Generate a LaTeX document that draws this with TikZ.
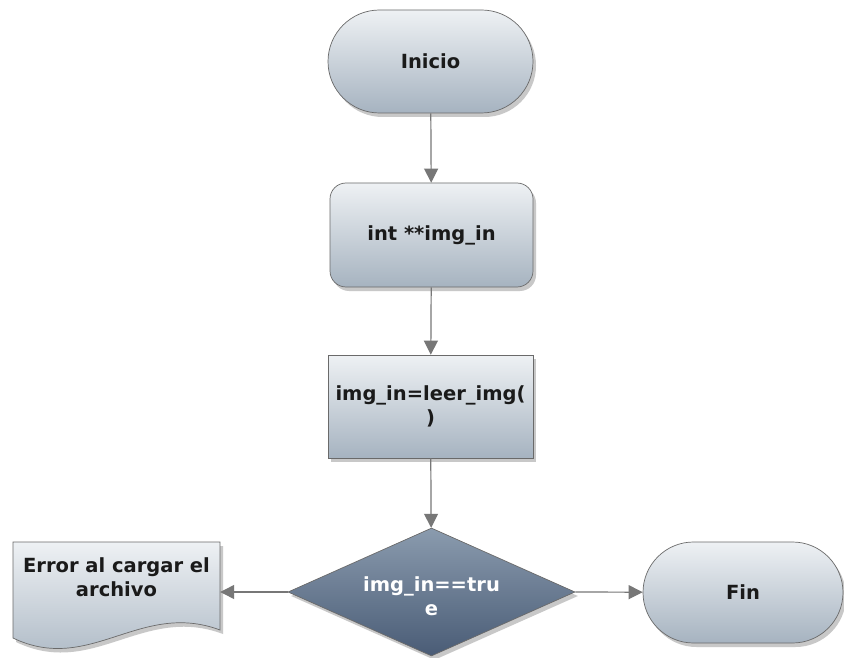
\documentclass[tikz,border=0pt]{standalone}
\usepackage{fontspec}
\setmainfont{DejaVu Sans}
\usetikzlibrary{shapes.geometric,shapes.misc,arrows.meta,shadows}
\definecolor{lt}{HTML}{EEF1F4}
\definecolor{lb}{HTML}{A6B3C0}
\definecolor{dt}{HTML}{8A9BAE}
\definecolor{db}{HTML}{4A5C76}
\definecolor{bd}{HTML}{6A6A6A}
\definecolor{ar}{HTML}{777777}
\definecolor{tx}{HTML}{1A1A1A}
\begin{document}
\begin{tikzpicture}[x=1pt,y=-1pt,
  shd/.style={drop shadow={opacity=0.3, shadow xshift=3pt, shadow yshift=-4pt, fill=black!70}},
  txt/.style={font=\bfseries\fontsize{19.5}{24}\selectfont, align=center, text=tx, inner sep=0pt},
  base/.style={txt, draw=bd, line width=0.7pt, top color=lt, bottom color=lb, shd},
  term/.style={base, rounded rectangle, minimum width=205pt, minimum height=103pt},
  procbox/.style={base, rectangle, rounded corners=16pt, minimum width=203pt, minimum height=104pt},
  rectbox/.style={base, rectangle, minimum width=205pt, minimum height=103pt},
  dec/.style={txt, diamond, draw=bd, line width=0.7pt, top color=dt, bottom color=db, text=white, shd,
    minimum width=287pt, minimum height=128pt, aspect=2.24},
  arr/.style={draw=ar, line width=1.2pt, -{Triangle[length=14pt,width=14pt,fill=ar]}}
]
\useasboundingbox (0,0) rectangle (844,658);
\fill[white] (0,0) rectangle (844,658);

\node[term] (ini) at (430.5,61.5) {Inicio};
\node[procbox] (decl) at (431.5,235) {int **img\_in};
\node[rectbox] (read) at (430.5,406.5) {img\_in=leer\_img(\\)};
\node[dec] (cond) at (431.5,592) {\\[0pt]img\_in==tru\\e};
\node[term, minimum width=200pt, minimum height=101pt] (fin) at (743,592.5) {Fin};

% document shape
\path[draw=bd, line width=0.7pt, top color=lt, bottom color=lb, shd]
  (13,542) -- (220,542) -- (220,630)
  .. controls (140,600) and (90,675) .. (13,638) -- cycle;
\node[txt, minimum width=207pt, minimum height=72pt] (err) at (116.5,577) {Error al cargar el\\archivo};

\draw[arr] (ini) -- (decl);
\draw[arr] (decl) -- (read);
\draw[arr] (read) -- (cond);
\draw[arr] (cond.west) -- (err.east |- cond.west);
\draw[arr] (cond.east) -- (fin);
\end{tikzpicture}
\end{document}
